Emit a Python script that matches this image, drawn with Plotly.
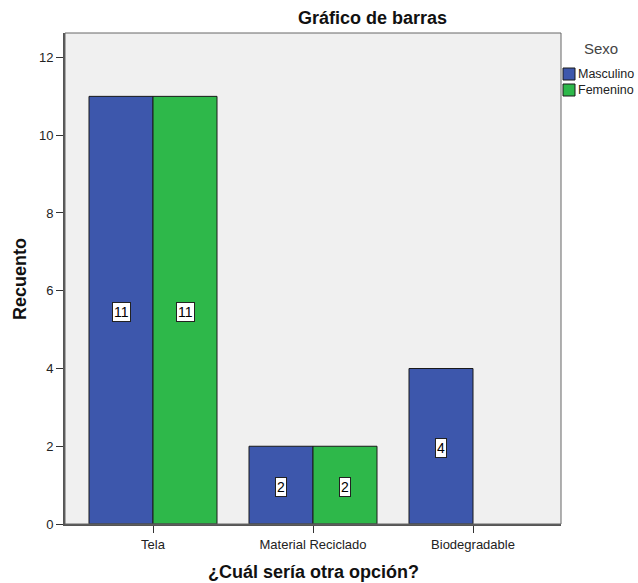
import plotly.graph_objects as go

# Counts of the alternative option, split by sex
categories = ["Tela", "Material Reciclado", "Biodegradable"]
masculino = [11, 2, 4]
femenino = [11, 2, 0]
series_names = ["Masculino", "Femenino"]
series_colors = ["#3D57AC", "#2EB84A"]
y_ticks = [0, 2, 4, 6, 8, 10, 12]

FONT = "Liberation Sans, Arial, sans-serif"
W, H = 638, 583
ML, MR, MT, MB = 65, 77, 33, 59
PW, PH = W - ML - MR, H - MT - MB


def px_x(p):
    return (p - ML) / PW


def px_y(p):
    return (H - MB - p) / PH


fig = go.Figure()
for name, vals, color in zip(series_names, [masculino, femenino], series_colors):
    fig.add_trace(go.Bar(
        name=name,
        x=categories,
        y=[v if v > 0 else None for v in vals],
        marker=dict(color=color, line=dict(color="#1a1a1a", width=1)),
        offsetgroup=name,
        showlegend=False,
    ))

annotations = []
shapes = []

# Value boxes in the middle of each bar
bar_w = 0.4
for i, vals in enumerate([masculino, femenino]):
    offset = (-0.5 + i) * bar_w
    for j, v in enumerate(vals):
        if v <= 0:
            continue
        annotations.append(dict(
            x=j + offset, y=v / 2, xref="x", yref="y", yshift=-2,
            text=str(v), showarrow=False,
            font=dict(family=FONT, size=14, color="#000"),
            bgcolor="white", bordercolor="#222", borderwidth=1, borderpad=1,
        ))

# Title
annotations.append(dict(
    text="<b>Gráfico de barras</b>", xref="paper", yref="paper",
    x=px_x(372), y=px_y(18), xanchor="center", yanchor="middle",
    showarrow=False, font=dict(family=FONT, size=18, color="#111"),
))

# Axis titles
annotations.append(dict(
    text="<b>¿Cuál sería otra opción?</b>", xref="paper", yref="paper",
    x=px_x(313), y=px_y(572), xanchor="center", yanchor="middle",
    showarrow=False, font=dict(family=FONT, size=18, color="#111"),
))
annotations.append(dict(
    text="<b>Recuento</b>", xref="paper", yref="paper",
    x=px_x(20), y=px_y(279), xanchor="center", yanchor="middle",
    textangle=-90, showarrow=False, font=dict(family=FONT, size=18, color="#111"),
))

# Legend drawn beside the plot
annotations.append(dict(
    text="Sexo", xref="paper", yref="paper", x=px_x(582), y=px_y(49),
    xanchor="left", yanchor="middle", showarrow=False,
    font=dict(family=FONT, size=15, color="#444"),
))
for k, (name, color) in enumerate(zip(series_names, series_colors)):
    top = 68 + k * 16
    shapes.append(dict(
        type="rect", xref="paper", yref="paper",
        x0=px_x(563), x1=px_x(575), y0=px_y(top + 12), y1=px_y(top),
        fillcolor=color, line=dict(color="#1a1a1a", width=1),
    ))
    annotations.append(dict(
        text=name, xref="paper", yref="paper", x=px_x(576), y=px_y(top + 6),
        xanchor="left", yanchor="middle", showarrow=False,
        font=dict(family=FONT, size=12.5, color="#222"),
    ))

# Thin frame around the plotting area
shapes.append(dict(type="rect", xref="paper", yref="paper", x0=0, y0=0, x1=1, y1=1,
                   line=dict(color="#666", width=1), layer="above"))

fig.update_layout(
    width=W, height=H,
    margin=dict(l=ML, r=MR, t=MT, b=MB, autoexpand=False),
    paper_bgcolor="white",
    plot_bgcolor="#F0F0F0",
    barmode="group",
    bargap=0.2,
    bargroupgap=0,
    font=dict(family=FONT, color="#222"),
    showlegend=False,
    annotations=annotations,
    shapes=shapes,
)

fig.update_xaxes(
    type="category",
    range=[-0.55, 2.55],
    automargin=False,
    showline=True, linecolor="#555", linewidth=2, mirror=False,
    ticks="outside", ticklen=7, tickcolor="#333", tickwidth=1,
    tickfont=dict(family=FONT, size=13, color="#222"),
    showgrid=False,
)
fig.update_yaxes(
    range=[0, 12.63],
    tickvals=y_ticks,
    automargin=False,
    showline=True, linecolor="#555", linewidth=2,
    ticks="outside", ticklen=7, tickcolor="#333", tickwidth=1,
    tickfont=dict(family=FONT, size=13, color="#222"),
    showgrid=False, zeroline=False,
)

fig.write_html("out.html")
